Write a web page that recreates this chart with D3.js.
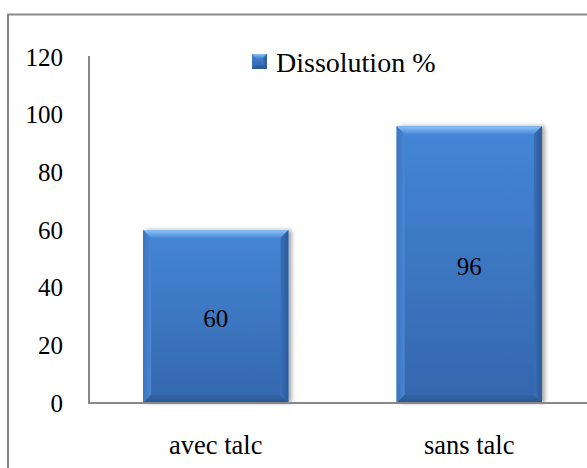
<!DOCTYPE html>
<html>
<head>
<meta charset="utf-8">
<script src="https://cdn.jsdelivr.net/npm/d3@7"></script>
<style>
  html, body { margin: 0; padding: 0; background: #fff; }
  svg { display: block; }
  svg text { font-family: "Liberation Serif", "DejaVu Serif", "Times New Roman", Times, serif; }
</style>
</head>
<body>
<svg id="chart" width="587" height="468"></svg>
<script>
// Dissolution results with and without talc
const categories = ["avec talc", "sans talc"];
const dissolution = [60, 96];
const yTicks = [0, 20, 40, 60, 80, 100, 120];
const seriesName = "Dissolution %";

const svg = d3.select("#chart");
const W = 587, H = 468;

// Gradients for the bevelled bar look
const defs = svg.append("defs");
function linGrad(id, x2, y2, stops) {
  const g = defs.append("linearGradient").attr("id", id)
    .attr("x1", 0).attr("y1", 0).attr("x2", x2).attr("y2", y2);
  stops.forEach(([o, c]) => g.append("stop").attr("offset", o).attr("stop-color", c));
}
linGrad("face", 0, 1, [[0, "#4486d6"], [1, "#3467ad"]]);
linGrad("topEdge", 0, 1, [[0, "#8cc2f7"], [1, "#4b8ad8"]]);
linGrad("leftEdge", 1, 0, [[0, "#3a74c0"], [1, "#4a86d4"]]);
linGrad("rightEdge", 1, 0, [[0, "#3a70ba"], [1, "#2a5a98"]]);
linGrad("bottomEdge", 0, 1, [[0, "#3264a8"], [1, "#2a568f"]]);
const shadow = defs.append("filter").attr("id", "shadow")
  .attr("x", "-10%").attr("y", "-10%").attr("width", "130%").attr("height", "120%");
shadow.append("feGaussianBlur").attr("in", "SourceAlpha").attr("stdDeviation", 2);
shadow.append("feOffset").attr("dx", 3).attr("dy", 0).attr("result", "ob");
shadow.append("feComponentTransfer").append("feFuncA").attr("type", "linear").attr("slope", 0.35);
const merge = shadow.append("feMerge");
merge.append("feMergeNode");
merge.append("feMergeNode").attr("in", "SourceGraphic");

// Chart frame
svg.append("rect")
  .attr("x", 8).attr("y", 14.5).attr("width", W + 10).attr("height", H + 10)
  .attr("fill", "#fff").attr("stroke", "#8a8a8a").attr("stroke-width", 2);

const plotLeft = 89, plotRight = 596;
const x = d3.scaleBand().domain(categories)
  .range([plotLeft, plotRight]).paddingInner(0.427).paddingOuter(0.2135);
const y = d3.scaleLinear().domain([0, 120]).range([403, 57]);

// Y tick labels
svg.append("g").selectAll("text").data(yTicks).join("text")
  .attr("x", 63).attr("y", d => y(d))
  .attr("dy", "0.35em")
  .attr("text-anchor", "end")
  .attr("font-size", 25)
  .text(d => d);

// Bars with bevelled edges
const bev = 8;
const bars = svg.append("g").selectAll("g").data(categories).join("g")
  .attr("filter", "url(#shadow)");
bars.each(function (c, i) {
  const g = d3.select(this);
  const x0 = x(c), x1 = x0 + x.bandwidth();
  const y0 = y(dissolution[i]), y1 = y(0);
  g.append("rect").attr("x", x0).attr("y", y0).attr("width", x1 - x0).attr("height", y1 - y0)
    .attr("fill", "url(#face)");
  g.append("path").attr("d", `M${x0},${y0}L${x1},${y0}L${x1 - bev},${y0 + bev}L${x0 + bev},${y0 + bev}Z`)
    .attr("fill", "url(#topEdge)");
  g.append("path").attr("d", `M${x0},${y0}L${x0 + bev},${y0 + bev}L${x0 + bev},${y1 - bev}L${x0},${y1}Z`)
    .attr("fill", "url(#leftEdge)");
  g.append("path").attr("d", `M${x1},${y0}L${x1},${y1}L${x1 - bev},${y1 - bev}L${x1 - bev},${y0 + bev}Z`)
    .attr("fill", "url(#rightEdge)");
  g.append("path").attr("d", `M${x0},${y1}L${x0 + bev},${y1 - bev}L${x1 - bev},${y1 - bev}L${x1},${y1}Z`)
    .attr("fill", "url(#bottomEdge)");
});

// Value labels inside bars
svg.append("g").selectAll("text").data(categories).join("text")
  .attr("x", c => x(c) + x.bandwidth() / 2)
  .attr("y", (c, i) => (y(dissolution[i]) + y(0)) / 2 + 2)
  .attr("dy", "0.35em")
  .attr("text-anchor", "middle")
  .attr("font-size", 25)
  .text((c, i) => dissolution[i]);

// Axis lines
const axisColor = "#888";
svg.append("line").attr("x1", plotLeft).attr("x2", plotLeft).attr("y1", 56).attr("y2", y(0))
  .attr("stroke", axisColor).attr("stroke-width", 2);
svg.append("line").attr("x1", plotLeft - 1).attr("x2", W).attr("y1", y(0)).attr("y2", y(0))
  .attr("stroke", axisColor).attr("stroke-width", 2);

// Category labels
svg.append("g").selectAll("text").data(categories).join("text")
  .attr("x", c => x(c) + x.bandwidth() / 2)
  .attr("y", 454)
  .attr("text-anchor", "middle")
  .attr("font-size", 26.5)
  .text(c => c);

// Legend
const legend = svg.append("g").attr("transform", "translate(252,54)");
legend.append("rect").attr("width", 15).attr("height", 15).attr("fill", "url(#face)");
legend.append("path").attr("d", "M0,0L15,0L11,4L4,4Z").attr("fill", "url(#topEdge)");
legend.append("path").attr("d", "M15,0L15,15L11,11L11,4Z").attr("fill", "url(#rightEdge)");
legend.append("path").attr("d", "M0,15L4,11L11,11L15,15Z").attr("fill", "url(#bottomEdge)");
legend.append("text")
  .attr("x", 24).attr("y", 8).attr("dy", "0.35em")
  .attr("font-size", 28).text(seriesName);
</script>
</body>
</html>
